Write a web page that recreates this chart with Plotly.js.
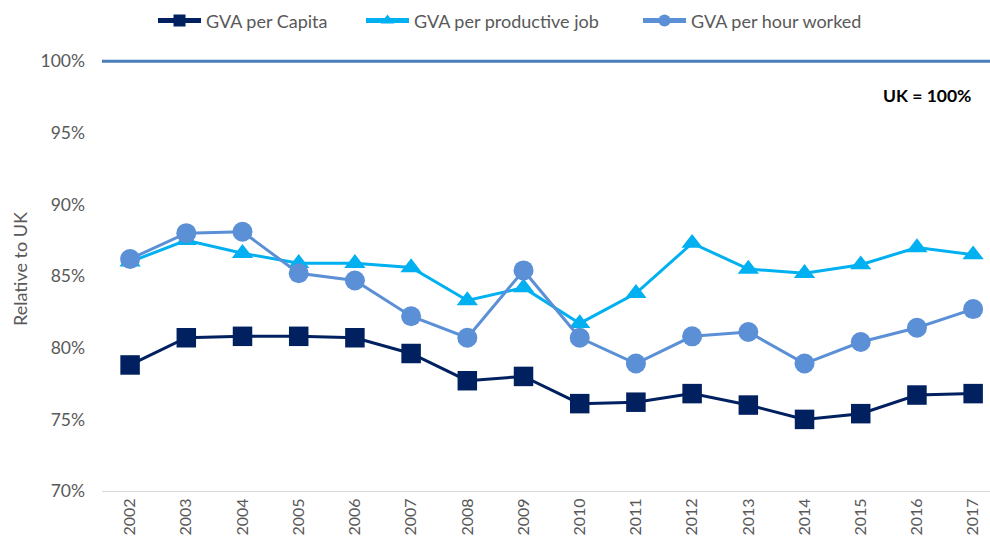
<!DOCTYPE html>
<html>
<head>
<meta charset="utf-8">
<script src="https://cdn.plot.ly/plotly-3.0.1.min.js"></script>
<style>html,body{margin:0;padding:0;background:#fff;}#chart{width:990px;height:547px;}</style>
</head>
<body>
<div id="chart"></div>
<script>
const years = ['2002','2003','2004','2005','2006','2007','2008','2009','2010','2011','2012','2013','2014','2015','2016','2017'];
const gvaPerCapita = [78.8, 80.7, 80.8, 80.8, 80.7, 79.6, 77.7, 78.0, 76.1, 76.2, 76.8, 76.0, 75.0, 75.4, 76.7, 76.8];
const gvaPerJob = [86.0, 87.5, 86.6, 85.9, 85.9, 85.6, 83.3, 84.2, 81.7, 83.8, 87.3, 85.5, 85.2, 85.8, 87.0, 86.5];
const gvaPerHour = [86.2, 88.0, 88.1, 85.2, 84.7, 82.2, 80.7, 85.4, 80.7, 78.9, 80.8, 81.1, 78.9, 80.4, 81.4, 82.7];
const ukLevel = 100;
const yTicks = [70, 75, 80, 85, 90, 95, 100];

const fontFam = 'Lato, "Open Sans", sans-serif';

const traces = [
  {x: years, y: gvaPerCapita, name: 'GVA per Capita', type: 'scatter', mode: 'lines+markers', legend: 'legend',
   line: {color: '#002060', width: 3}, marker: {symbol: 'square', size: 19.5, color: '#002060'}},
  {x: years, y: gvaPerJob, name: 'GVA per productive job', type: 'scatter', mode: 'lines+markers', legend: 'legend2',
   line: {color: '#00B0F0', width: 3}, marker: {symbol: 'triangle-up', size: 18.5, color: '#00B0F0'}},
  {x: years, y: gvaPerHour, name: 'GVA per hour worked', type: 'scatter', mode: 'lines+markers', legend: 'legend3',
   line: {color: '#5B8FD6', width: 3}, marker: {symbol: 'circle', size: 20, color: '#5B8FD6'}}
];

function legendAt(px) {
  return {orientation: 'h', xref: 'container', x: px / 990, xanchor: 'left',
          yref: 'container', y: 0.962, yanchor: 'middle', bgcolor: 'rgba(0,0,0,0)',
          font: {size: 18, color: '#595959'}, itemsizing: 'constant', itemwidth: 43};
}

const layout = {
  width: 990, height: 547,
  margin: {l: 102, r: 0, t: 47, b: 56, autoexpand: false},
  paper_bgcolor: '#fff', plot_bgcolor: '#fff',
  font: {family: fontFam, color: '#595959', size: 15},
  showlegend: true,
  legend: legendAt(153),
  legend2: legendAt(361),
  legend3: legendAt(638),
  xaxis: {type: 'category', range: [-0.5, 15.3], tickangle: -90, showgrid: false, zeroline: false,
          showline: true, linecolor: '#d9d9d9', linewidth: 1, ticks: '',
          tickfont: {size: 16, color: '#595959'}, fixedrange: true},
  yaxis: {range: [70, 101], tickvals: yTicks, ticktext: yTicks.map(v => v + '%'),
          showgrid: false, zeroline: false, showline: false, ticks: '', ticklabelstandoff: 16,
          tickfont: {size: 17.5, color: '#595959'},
          title: {text: 'Relative to UK', font: {size: 18, color: '#595959'}, standoff: 8}},
  shapes: [{type: 'line', xref: 'paper', x0: 0, x1: 1, yref: 'y', y0: ukLevel, y1: ukLevel,
            line: {color: '#4A7EBB', width: 3}}],
  annotations: [{text: '<b>UK = 100%</b>', xref: 'paper', x: 0.929, xanchor: 'center',
                 yref: 'y', y: 97.6, yanchor: 'middle', showarrow: false,
                 font: {size: 17.5, color: '#000'}}]
};

Plotly.newPlot('chart', traces, layout, {displayModeBar: false, staticPlot: true});
</script>
</body>
</html>
